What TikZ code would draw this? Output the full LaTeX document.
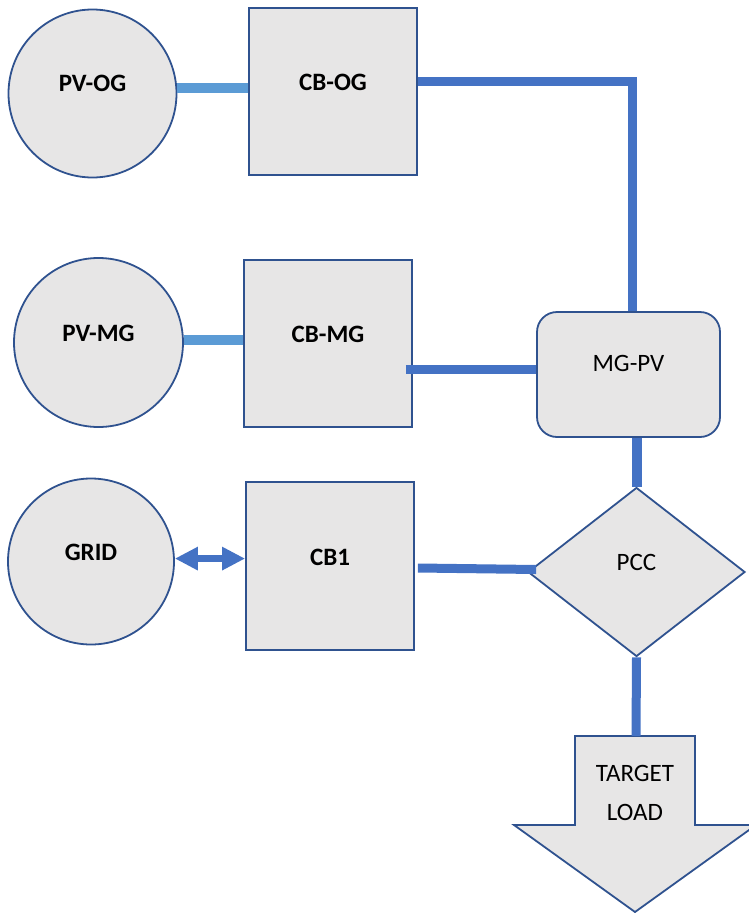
\documentclass[tikz,border=0pt]{standalone}
\usepackage{fontspec}
\setmainfont{Carlito}
\usetikzlibrary{arrows.meta,shapes.geometric}
\definecolor{edgeblue}{HTML}{2F528F}
\definecolor{boxgray}{HTML}{E7E6E6}
\definecolor{busblue}{HTML}{4472C4}
\definecolor{feedblue}{HTML}{5B9BD5}
\begin{document}
\begin{tikzpicture}[x=1pt,y=-1pt,
  unit/.style={draw=edgeblue,line width=1.8pt,fill=boxgray,inner sep=0pt},
  source/.style={unit,circle},
  breaker/.style={unit,rectangle,minimum width=168pt,minimum height=167pt},
  tag/.style={font=\fontsize{25}{30}\selectfont\bfseries,yshift=9pt},
  plaintag/.style={font=\fontsize{25}{30}\selectfont},
  bus/.style={busblue,line width=9pt,line join=miter},
  feed/.style={feedblue,line width=10pt}]

\useasboundingbox (0,0) rectangle (749,913);

% sources
\node[source,minimum size=168pt,label={[tag,yshift=1.5pt]center:PV-OG}] (pvog) at (92.5,93.5) {};
\node[source,minimum size=169pt,label={[tag]center:PV-MG}] (pvmg) at (98.5,342.5) {};
\node[source,minimum size=166pt,label={[tag]center:GRID}] (grid) at (91,561.5) {};

% circuit breakers
\node[breaker,label={[tag]center:CB-OG}] (cbog) at (333,91.5) {};
\node[breaker,label={[tag]center:CB-MG}] (cbmg) at (328,343.5) {};
\node[breaker,minimum height=168pt,label={[tag]center:CB1}] (cb1) at (330,566) {};

% microgrid PV and point of common coupling
\node[unit,rectangle,rounded corners=20pt,minimum width=183pt,minimum height=125pt,
      label={[plaintag,yshift=11.5pt]center:MG-PV}] (mgpv) at (628.5,374.5) {};
\node[unit,diamond,minimum width=217pt,minimum height=169pt,
      label={[plaintag,yshift=10pt]center:PCC}] (pcc) at (636.5,572) {};

% load arrow
\draw[unit] (575,736) -- (695,736) -- (695,825) -- (756,825) -- (635,912)
  -- (514,825) -- (575,825) -- cycle;
\coordinate (loadtop) at (636,736);
\node[plaintag,align=center,font=\fontsize{25}{39}\selectfont] (load) at (635,792.5) {TARGET\\LOAD};

% feeders from the PV arrays
\draw[feed] (pvog.4) -- (pvog.4 -| cbog.west);
\draw[feed] (pvmg.2) -- (pvmg.2 -| cbmg.west);

% grid exchange
\draw[busblue,line width=7pt,{Triangle[length=23pt,width=22pt]}-{Triangle[length=23pt,width=22pt]}]
  (grid.2) -- (grid.2 -| cb1.west);

% bus connections
\draw[bus] ([yshift=10.5pt]cbog.east) -| ([xshift=4pt]mgpv.north);
\coordinate (mgin) at ([yshift=5pt]mgpv.west);
\draw[bus] (mgin -| cbmg.east) ++(-7,0) -- (mgin);
\draw[bus] ([xshift=3pt,yshift=-2pt]cb1.east) -- ([xshift=9pt,yshift=2.5pt]pcc.west);
\draw[bus,line width=10pt] (pcc.north |- mgpv.south) -- (pcc.north);
\draw[bus] (pcc.south) -- (loadtop);
\end{tikzpicture}
\end{document}
